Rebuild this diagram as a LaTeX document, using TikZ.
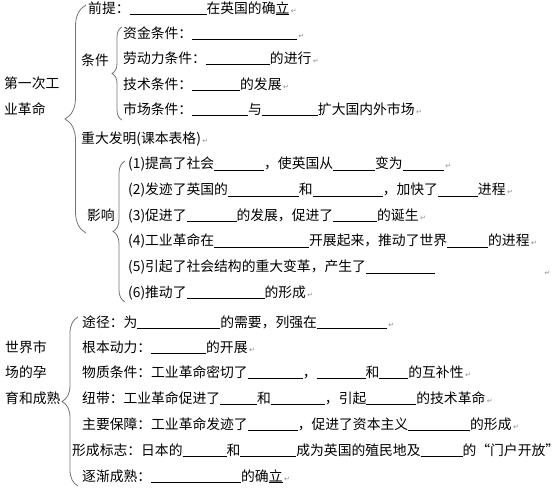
\documentclass[tikz,border=0pt]{standalone}
\usepackage{fontspec}
\setmainfont{Noto Sans CJK SC}
\newfontfamily\symfont{DejaVu Sans}
\usepackage{xcolor}
\usetikzlibrary{decorations.pathreplacing}
\colorlet{brcol}{black!55}
\colorlet{retcol}{black!45}
\newcommand\blank[1]{\rule[-1.2pt]{#1pt}{0.7pt}}
\newcommand\ret{\hspace{1.5pt}{\symfont\fontsize{7}{7}\selectfont\color{retcol}↵}}
\newcommand\undl[1]{\rlap{\blank{13.8}}#1}

\begin{document}
\begin{tikzpicture}[x=1pt, y=-1pt,
  every node/.style={inner sep=0pt, anchor=base west, font=\fontsize{13.8}{16}\selectfont},
  brc/.style={brcol, line width=0.8pt, decorate}]
  \useasboundingbox (0,0) rectangle (558,495);
  % first industrial revolution
  \node (rev1) at (4,89) {第一次工};
  \node (rev2) at (4,115) {业革命};
  \coordinate (b1t) at (86,5);
  \coordinate (b1b) at (86,233);
  \draw[brc, decoration={brace,amplitude=21pt}] (b1b) -- (b1t);
  \node (premise) at (88,14) {前提：\blank{77}在英国的确\undl{立}\ret};
  \node (cond) at (81,66) {条件};
  \coordinate (b2t) at (122,27);
  \coordinate (b2b) at (122,120);
  \draw[brc, decoration={brace,amplitude=10pt}] (b2b) -- (b2t);
  \node (capital) at (123,39) {资金条件：\blank{105}\ret};
  \node (labour) at (123,64) {劳动力条件：\blank{64}的进行\ret};
  \node (tech) at (123,90) {技术条件：\blank{48}的发展\ret};
  \node (market) at (123,115) {市场条件：\blank{56}与\blank{56}扩大国内外市场\ret};
  \node (invent) at (81,143) {重大发明(课本表格)\ret};
  \node (infl) at (87,221) {影响};
  \coordinate (b3t) at (125,161);
  \coordinate (b3b) at (125,302);
  \draw[brc, decoration={brace,amplitude=12pt}] (b3b) -- (b3t);
  \node (imp1) at (128,169) {(1)提高了社会\blank{50}，使英国从\blank{42}变为\blank{41}\ret};
  \node (imp2) at (128,195) {(2)发迹了英国的\blank{71}和\blank{70}，加快了\blank{40}进程\ret};
  \node (imp3) at (128,221) {(3)促进了\blank{50}的发展，促进了\blank{44}的诞生\ret};
  \node (imp4) at (128,246) {(4)工业革命在\blank{95}开展起来，推动了世界\blank{41}的进程\ret};
  \node (imp5) at (128,272) {(5)引起了社会结构的重大变革，产生了\blank{69}};
  \node (ret5) at (543,276) {\ret};
  \node (imp6) at (128,298) {(6)推动了\blank{78}的形成\ret};
  % world market
  \node (wm1) at (5,352) {世界市};
  \node (wm2) at (5,377) {场的孕};
  \node (wm3) at (5,403) {育和成熟};
  \coordinate (b4t) at (78,317);
  \coordinate (b4b) at (78,486);
  \draw[brc, decoration={brace,amplitude=16pt}] (b4b) -- (b4t);
  \node (route) at (82,327) {途径：为\blank{83}的需要，列强在\blank{70}\ret};
  \node (power) at (82,352) {根本动力：\blank{55}的开展\ret};
  \node (material) at (82,377) {物质条件：工业革命密切了\blank{55}，\blank{49}和\blank{29}的互补性\ret};
  \node (link) at (82,403) {纽带：工业革命促进了\blank{37}和\blank{54}，引起\blank{50}的技术革命\ret};
  \node (guard) at (82,429) {主要保障：工业革命发迹了\blank{50}，促进了资本主义\blank{62}的形成\ret};
  \node (sign) at (72,455) {形成标志：日本的\blank{44}和\blank{56}成为英国的殖民地及\blank{42}的“门户开放”};
  \node (mature) at (82,481) {逐渐成熟：\blank{90}的确\undl{立}\ret};
\end{tikzpicture}
\end{document}
